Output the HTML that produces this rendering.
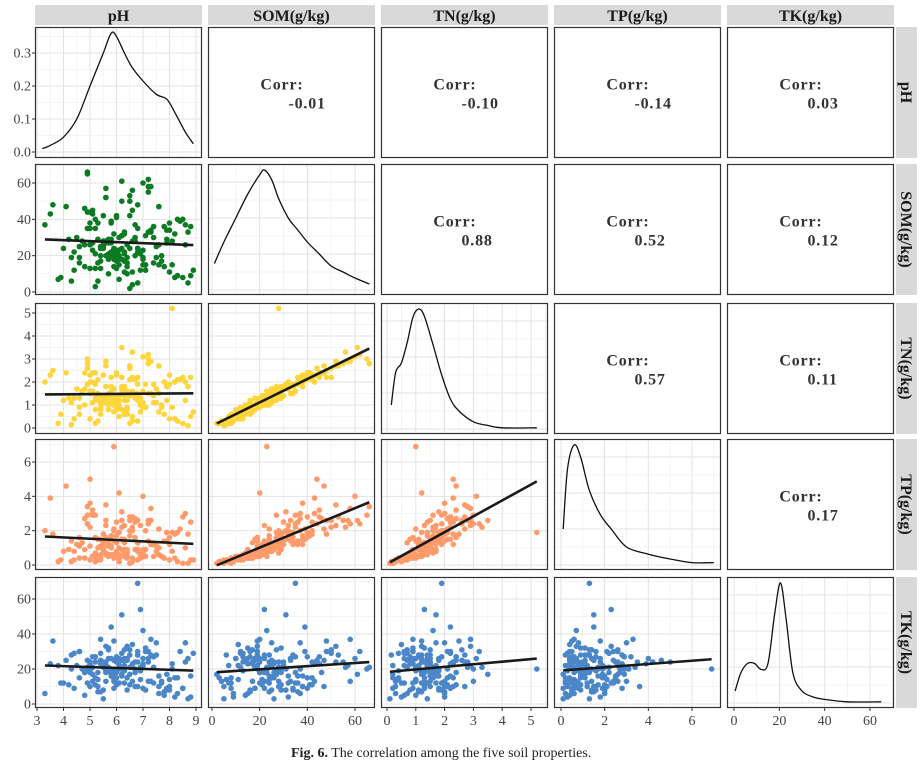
<!DOCTYPE html>
<html><head><meta charset="utf-8">
<style>
html,body{margin:0;padding:0;background:#fff;}
svg{display:block;font-family:"Liberation Serif",serif;}
</style></head>
<body>
<svg id="chart" width="923" height="765" viewBox="0 0 923 765"></svg>
<script>
// ---- data (one row per soil sample) ----
const ph=[5.8,6.2,4.9,7.1,5.5,6.6,8.2,5.1,6.0,7.6,
4.5,5.9,6.8,5.3,6.4,7.9,5.6,4.8,6.1,7.3,
5.7,6.9,8.5,5.0,6.3,7.0,4.2,5.4,6.5,7.8,
5.2,6.7,3.6,5.9,6.2,7.4,8.8,5.5,6.0,4.6,
5.8,7.2,6.4,5.1,8.0,6.6,5.7,4.9,8.1,6.1,
5.3,6.8,3.3,5.6,7.1,6.3,8.6,5.0,6.9,4.4,
5.8,7.7,6.2,5.4,6.5,6.8,7.0,5.9,8.3,6.0,
5.2,6.7,3.9,5.7,7.3,6.4,5.5,8.7,6.1,4.8,
5.9,7.6,6.3,5.0,6.8,4.3,7.2,5.6,8.1,6.2,
5.4,6.6,3.5,5.8,7.4,6.0,5.1,8.9,6.5,4.6,
5.7,7.9,6.1,5.3,6.9,4.1,7.0,5.5,8.4,6.3,
5.9,6.4,4.0,5.6,7.5,6.7,5.2,8.6,6.0,4.9,
4.7,5.2,5.5,5.9,6.1,6.4,6.8,7.2,7.7,8.3,
8.0,7.5,7.1,6.6,6.3,6.0,5.7,5.4,5.0,4.4,
4.9,5.3,5.6,5.8,6.2,6.5,6.9,7.3,7.8,8.5,
8.2,7.6,7.0,6.7,6.2,5.9,5.5,5.1,4.6,3.8,
4.8,5.2,5.6,6.0,6.3,6.6,7.0,7.4,8.0,8.7,
8.8,7.9,7.2,6.8,6.5,6.1,5.8,5.4,5.0,4.3];
const som=[22,18,35,12,25,28,8,45,20,15,
30,24,5,38,19,27,52,14,23,33,
10,21,40,26,17,60,29,13,24,36,
3,20,48,22,31,16,9,25,42,19,
27,55,14,23,34,11,21,65,28,18,
6,24,37,20,15,32,26,44,12,22,
29,17,50,25,2,35,19,23,40,13,
21,30,8,27,58,16,24,33,20,46,
14,26,11,38,22,19,62,28,15,31,
24,4,43,20,36,17,27,12,53,25,
18,34,7,29,22,47,15,26,39,21,
32,10,24,57,19,28,13,37,23,66,
28,35,42,18,30,26,48,33,20,9,
38,25,31,56,22,41,29,17,35,12,
44,16,27,39,24,50,21,34,14,8,
32,47,23,37,61,19,28,43,16,7,
26,40,52,21,33,45,18,30,11,5,
36,29,58,24,42,15,38,20,13,6];
const tn=[1.3,0.8,1.9,0.9,1.1,1.6,0.4,2.4,1.2,0.7,
1.7,1.0,0.3,2.1,1.2,1.2,2.7,1.0,1.4,1.5,
0.8,1.0,2.2,1.5,0.7,3.1,1.3,0.6,1.4,2.0,
0.2,1.3,2.5,1.0,1.8,1.1,0.5,1.4,2.3,0.9,
1.5,2.8,0.9,1.1,1.9,0.5,1.2,3.0,5.2,1.0,
0.3,1.4,2.0,1.2,0.9,1.7,1.2,2.3,0.7,1.3,
1.6,1.0,2.2,1.4,0.2,1.9,1.1,1.0,2.1,0.8,
1.3,1.4,0.6,1.5,2.9,0.8,1.1,1.8,1.2,2.4,
0.7,1.5,0.6,2.0,1.2,1.1,3.2,1.3,0.9,1.7,
1.1,0.3,2.3,1.2,1.9,0.8,1.6,0.7,2.7,1.3,
1.0,1.8,0.5,1.5,1.3,2.4,0.9,1.4,2.1,1.2,
1.7,0.6,1.2,2.9,1.1,1.5,0.8,2.0,1.3,2.8,
1.6,1.9,2.3,1.3,1.4,1.6,2.2,1.5,0.9,0.3,
2.3,1.7,1.9,3.3,1.4,2.4,1.3,0.8,1.6,0.4,
2.6,1.2,1.8,2.2,1.5,2.6,1.0,1.5,0.6,0.2,
2.0,2.7,1.6,2.1,3.5,1.2,1.3,2.0,0.6,0.2,
1.7,2.4,2.9,1.4,1.8,2.2,0.9,1.4,0.4,0.1,
2.2,1.8,3.0,1.5,2.1,0.9,1.8,0.9,0.4,0.15];
const tp=[1.0,1.5,2.4,0.5,0.9,2.0,0.4,3.2,0.8,0.6,
1.2,2.1,0.3,1.5,0.7,1.9,3.5,0.4,1.0,2.6,
0.5,0.6,2.8,1.1,1.3,4.0,0.9,0.3,1.7,1.4,
0.2,0.9,1.8,1.4,3.1,0.5,0.3,0.8,2.5,1.6,
1.1,2.6,0.7,0.5,1.6,0.4,1.2,2.9,1.9,0.6,
0.3,1.3,2.0,0.6,0.9,2.3,1.0,5.0,0.4,0.8,
1.7,0.5,2.2,1.1,0.1,1.3,0.9,6.9,1.9,0.6,
0.7,2.5,0.3,1.4,3.3,0.5,1.2,1.8,4.2,2.7,
0.4,1.0,0.5,3.6,0.9,1.4,2.4,0.7,0.8,1.5,
1.5,0.2,3.9,0.6,1.2,0.7,2.9,0.3,2.8,1.1,
0.6,1.9,0.2,1.0,2.3,4.6,0.5,1.3,2.1,0.9,
2.0,0.4,0.8,2.6,1.1,1.6,0.5,3.0,1.3,3.4,
1.3,2.9,1.8,0.6,1.9,0.9,2.6,1.4,0.5,0.2,
1.2,0.8,2.0,2.2,0.7,1.7,1.1,0.4,2.2,0.3,
2.4,0.5,1.6,1.5,0.9,2.6,0.6,1.2,0.4,0.1,
1.8,2.1,0.7,2.7,2.6,0.5,1.0,3.0,0.4,0.2,
0.9,1.6,2.3,0.6,1.5,2.8,0.5,1.2,0.3,0.1,
2.5,1.4,2.4,0.8,2.0,0.4,1.7,0.6,0.3,0.2];
const tk=[18,25,12,30,8,21,15,27,19,6,
22,14,10,10,33,17,24,5,20,13,
26,19,9,23,31,26,11,29,21,7,
15,18,36,13,20,27,4,22,15,30,
17,24,25,21,8,34,19,20,20,26,
14,28,6,18,32,12,24,24,21,9,
20,13,29,25,17,69,22,20,15,27,
11,24,12,31,37,8,21,26,24,18,
25,16,22,10,28,20,30,13,23,51,
7,13,23,26,12,24,17,29,28,15,
21,9,12,18,54,25,23,3,30,19,
16,26,12,22,28,10,24,35,18,21,
20,27,24,9,22,15,30,26,12,6,
10,35,8,21,26,11,32,23,18,29,
25,7,19,44,16,31,14,28,5,9,
4,10,42,20,17,36,24,13,30,22,
18,27,33,12,25,23,9,21,14,3,
16,8,13,24,11,26,16,37,19,28];
const varNames=['pH','SOM(g/kg)','TN(g/kg)','TP(g/kg)','TK(g/kg)'];
// correlation labels, upper triangle row by row
const corrRow1=['-0.01','-0.10','-0.14','0.03'];
const corrRow2=['0.88','0.52','0.12'];
const corrRow3=['0.57','0.11'];
const corrRow4=['0.17'];
// density curves (pH in real density units, others relative 0..1)
const phDensX=[3.2,3.5,4.0,4.5,5.0,5.5,5.8,6.0,6.3,6.6,7.0,7.5,7.9,8.2,8.6,8.9];
const phDensY=[0.01,0.02,0.045,0.1,0.2,0.3,0.36,0.35,0.3,0.255,0.215,0.175,0.16,0.12,0.06,0.025];
const somDensX=[1,5,10,15,20,22,25,28,32,36,40,45,50,55,60,66];
const somDensY=[0.22,0.4,0.6,0.8,0.96,1.0,0.92,0.76,0.6,0.5,0.4,0.3,0.2,0.15,0.1,0.05];
const tnDensX=[0.15,0.3,0.5,0.7,0.9,1.1,1.3,1.6,1.9,2.2,2.5,3.0,3.5,4.0,5.2];
const tnDensY=[0.2,0.47,0.55,0.72,0.93,1.0,0.94,0.7,0.45,0.25,0.15,0.06,0.03,0.01,0.01];
const tpDensX=[0.1,0.3,0.6,0.9,1.3,1.8,2.3,3.0,4.0,5.0,6.0,7.0];
const tpDensY=[0.3,0.8,1.0,0.9,0.62,0.42,0.3,0.15,0.09,0.05,0.02,0.02];
const tkDensX=[0.5,3,6,9,12,15,18,20.5,23,26,30,35,40,50,65];
const tkDensY=[0.1,0.25,0.33,0.33,0.28,0.33,0.75,1.0,0.7,0.25,0.1,0.05,0.03,0.01,0.01];
const xTicks=[[3,4,5,6,7,8,9],[0,20,40,60],[0,1,2,3,4,5],[0,2,4,6],[0,20,40,60]];
const yTicks=[[0,0.1,0.2,0.3],[0,20,40,60],[0,1,2,3,4,5],[0,2,4,6],[0,20,40,60]];
const yTickLabels=[['0.0','0.1','0.2','0.3'],['0','20','40','60'],['0','1','2','3','4','5'],['0','2','4','6'],['0','20','40','60']];

// ---- layout ----
const series=[ph,som,tn,tp,tk];
const densX=[phDensX,somDensX,tnDensX,tpDensX,tkDensX];
const densY=[phDensY,somDensY,tnDensY,tpDensY,tkDensY];
const corrLabels=[corrRow1,corrRow2,corrRow3,corrRow4];
const colors=['#000','#0b7a22','#ffd53c','#ff9a6b','#4a86c8'];
const px0=[35,208,381,554,727], pw=167;
const py0=[27,164,303,439,577], ph_=131;
const xCal=[[3,37,9,196],[0,212,60,355],[0,387,5,531],[0,561,6,692],[0,734,60,870]];
const yCal=[[0,152,0.3,53],[0,292,60,183],[0,428,5,313],[0,565,6,462],[0,704,60,599]];
function xs(j,v){const c=xCal[j];return c[1]+(v-c[0])*(c[3]-c[1])/(c[2]-c[0]);}
function ys(i,v){const c=yCal[i];return c[1]+(v-c[0])*(c[3]-c[1])/(c[2]-c[0]);}
function yRel(i,d){return py0[i]+ph_-5-d*(ph_-11);}

const NS='http://www.w3.org/2000/svg';
const svg=document.getElementById('chart');
function mk(tag,attrs,parent){const e=document.createElementNS(NS,tag);for(const k in attrs)e.setAttribute(k,attrs[k]);(parent||svg).appendChild(e);return e;}
const defs=mk('defs',{});

function minors(t){const m=[];for(let k=0;k<t.length-1;k++)m.push((t[k]+t[k+1])/2);const s=t[1]-t[0];m.push(t[0]-s/2);m.push(t[t.length-1]+s/2);if(t.length<6)m.push(t[t.length-1]+s*1.5);return m;}

function smoothPath(pts){let d='M'+pts[0][0]+','+pts[0][1];for(let k=0;k<pts.length-1;k++){const p0=pts[k-1]||pts[k],p1=pts[k],p2=pts[k+1],p3=pts[k+2]||p2;
const c1x=p1[0]+(p2[0]-p0[0])/6,c1y=p1[1]+(p2[1]-p0[1])/6,c2x=p2[0]-(p3[0]-p1[0])/6,c2y=p2[1]-(p3[1]-p1[1])/6;
d+=' C'+c1x.toFixed(1)+','+c1y.toFixed(1)+' '+c2x.toFixed(1)+','+c2y.toFixed(1)+' '+p2[0].toFixed(1)+','+p2[1].toFixed(1);}return d;}

function fit(xv,yv){const n=xv.length;let mx=0,my=0;for(let k=0;k<n;k++){mx+=xv[k];my+=yv[k];}mx/=n;my/=n;let sxy=0,sxx=0;for(let k=0;k<n;k++){sxy+=(xv[k]-mx)*(yv[k]-my);sxx+=(xv[k]-mx)**2;}const b=sxy/sxx;return [my-b*mx,b];}

// top strips
for(let j=0;j<5;j++){
  const g=mk('g',{});
  
  
  mk('rect',{x:px0[j],y:5,width:pw,height:20,fill:'#d9d9d9'},g);
  const t=mk('text',{x:px0[j]+pw/2,y:21,'text-anchor':'middle','font-size':16,'font-weight':'bold',fill:'#1a1a1a'},g);
  t.textContent=varNames[j];
}
// right strips
for(let i=0;i<5;i++){
  const g=mk('g',{});
  
  
  mk('rect',{x:896,y:py0[i],width:21,height:ph_,fill:'#d9d9d9'},g);
  const cx=901,cy=py0[i]+ph_/2;
  const t=mk('text',{x:cx,y:cy,'text-anchor':'middle','font-size':16,'font-weight':'bold',fill:'#1a1a1a',transform:'rotate(90 '+cx+' '+cy+')'},g);
  t.textContent=varNames[i];
}

for(let i=0;i<5;i++){for(let j=0;j<5;j++){
  const x0=px0[j],y0=py0[i];
  const g=mk('g',{});
  
  
  mk('rect',{x:x0,y:y0,width:pw,height:ph_,fill:'#fff'},g);
  if(j>i){
    const lab=corrLabels[i][j-i-1];
    const cx=x0+pw/2,cy=y0+ph_/2;
    const t1=mk('text',{x:cx+12,y:cy-3,'text-anchor':'end','font-size':16,'font-weight':'bold','letter-spacing':'0.8',fill:'#333'},g);
    t1.textContent='Corr:';
    
    
    const t2=mk('text',{x:cx-3,y:cy+16,'text-anchor':'start','font-size':16,'font-weight':'bold','letter-spacing':'0.8',fill:'#333'},g);
    t2.textContent=lab;
    
    
  } else {
    const cid='clip'+i+'_'+j;
    const cp=mk('clipPath',{id:cid},defs);
    mk('rect',{x:x0,y:y0,width:pw,height:ph_},cp);
    const inner=mk('g',{'clip-path':'url(#'+cid+')'},g);
    const xt=xTicks[j];
    minors(xt).forEach(v=>{const X=xs(j,v);mk('line',{x1:X,x2:X,y1:y0,y2:y0+ph_,stroke:'#f0f0f0','stroke-width':0.7},inner);});
    let ygrid,ygridMin;
    if(i===j&&i>0){ygrid=[0,0.3,0.6,0.9].map(d=>yRel(i,d));ygridMin=[0.15,0.45,0.75,1.05].map(d=>yRel(i,d));}
    else{ygrid=yTicks[i].map(v=>ys(i,v));ygridMin=minors(yTicks[i]).map(v=>ys(i,v));}
    ygridMin.forEach(Y=>mk('line',{x1:x0,x2:x0+pw,y1:Y,y2:Y,stroke:'#f0f0f0','stroke-width':0.7},inner));
    xt.forEach(v=>{const X=xs(j,v);mk('line',{x1:X,x2:X,y1:y0,y2:y0+ph_,stroke:'#e3e3e3','stroke-width':1},inner);});
    ygrid.forEach(Y=>mk('line',{x1:x0,x2:x0+pw,y1:Y,y2:Y,stroke:'#e3e3e3','stroke-width':1},inner));
    if(i===j){
      const pts=densX[i].map((v,k)=>[xs(j,v), i===0?ys(0,densY[i][k]):yRel(i,densY[i][k])]);
      const p=mk('path',{d:smoothPath(pts),fill:'none',stroke:'#111','stroke-width':1.3},inner);
      
      
    } else {
      const xv=series[j],yv=series[i];
      for(let k=0;k<xv.length;k++){
        const c=mk('circle',{cx:xs(j,xv[k]).toFixed(1),cy:ys(i,yv[k]).toFixed(1),r:2.8,fill:colors[i]},inner);
        
        
      }
      const f=fit(xv,yv);
      const mn=Math.min(...xv),mx=Math.max(...xv);
      const l=mk('line',{x1:xs(j,mn),y1:ys(i,f[0]+f[1]*mn),x2:xs(j,mx),y2:ys(i,f[0]+f[1]*mx),stroke:'#1a1a1a','stroke-width':2.6},inner);
      
      
    }
  }
  mk('rect',{x:x0+0.5,y:y0+0.5,width:pw-1,height:ph_-1,fill:'none',stroke:'#333','stroke-width':1.2},g);
}}

// left y axes
for(let i=0;i<5;i++){
  const g=mk('g',{});
  
  
  yTicks[i].forEach((v,k)=>{const Y=ys(i,v);
    mk('line',{x1:32,x2:35,y1:Y,y2:Y,stroke:'#333','stroke-width':1},g);
    const t=mk('text',{x:31,y:Y+4.5,'text-anchor':'end','font-size':14,fill:'#444'},g);t.textContent=yTickLabels[i][k];});
}
// bottom x axes
for(let j=0;j<5;j++){
  const g=mk('g',{});
  
  
  xTicks[j].forEach(v=>{const X=xs(j,v);
    mk('line',{x1:X,x2:X,y1:708,y2:711,stroke:'#333','stroke-width':1},g);
    const t=mk('text',{x:X,y:725,'text-anchor':'middle','font-size':14,fill:'#444'},g);t.textContent=String(v);});
}
// caption
const cap=mk('text',{x:291,y:757,'font-size':14,fill:'#222'});


const b=mk('tspan',{'font-weight':'bold'},cap);b.textContent='Fig. 6.';
const r=mk('tspan',{},cap);r.textContent=' The correlation among the five soil properties.';
</script>
</body></html>
